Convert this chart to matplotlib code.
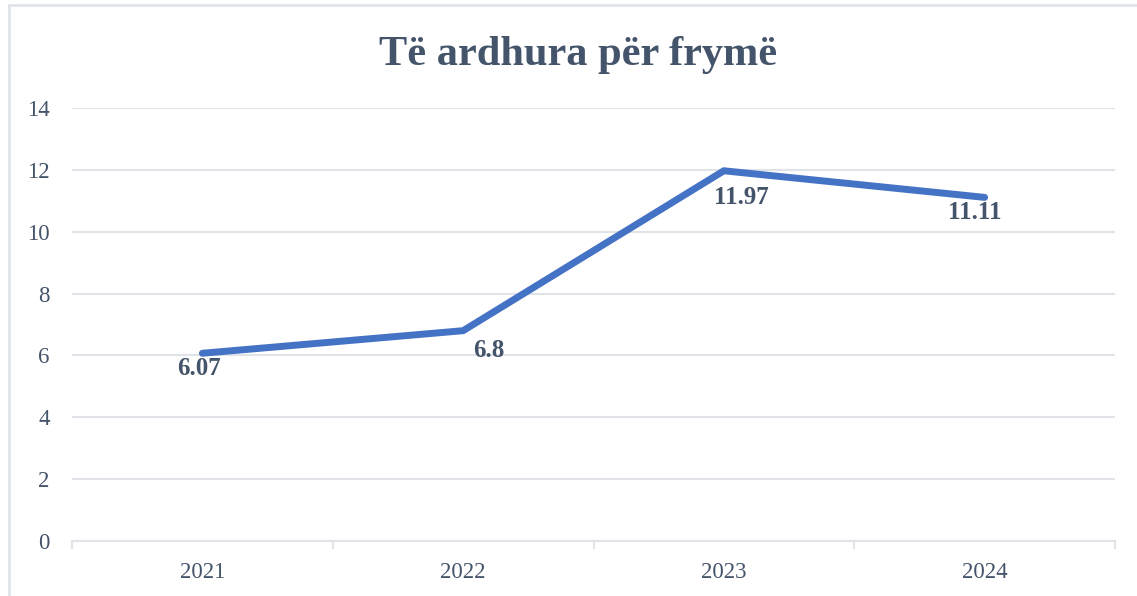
import matplotlib
matplotlib.use("Agg")
import matplotlib.pyplot as plt
from matplotlib.patches import Rectangle

# data
years = ["2021", "2022", "2023", "2024"]
values = [6.07, 6.8, 11.97, 11.11]
labels = ["6.07", "6.8", "11.97", "11.11"]
yticks = [0, 2, 4, 6, 8, 10, 12, 14]

text_col = "#44546A"
grid_col = "#E0E3E8"
line_col = "#4472C4"

plt.rcParams['font.family'] = ['Liberation Serif', 'DejaVu Serif']

W, H = 1137, 596
fig = plt.figure(figsize=(W / 100, H / 100), dpi=100)
ax = fig.add_axes([72 / W, 1 - 541 / H, (1115 - 72) / W, (541 - 108) / H])

# outer border of the chart box
fig.patches.append(Rectangle((9 / W, -0.1), 1.2, 1.1 - 5 / H, transform=fig.transFigure,
                             fill=False, edgecolor=grid_col, linewidth=2))

x = list(range(len(years)))
ax.plot(x, values, color=line_col, linewidth=5, solid_capstyle='round', solid_joinstyle='miter', zorder=3)

# label offsets in pixels (dx, dy)
offs = [(-3, -15), (26, -20), (17, -27), (-10, -15)]
for xi, v, lab, (dx, dy) in zip(x, values, labels, offs):
    ax.annotate(lab, (xi, v), xytext=(dx, dy), textcoords='offset pixels',
                ha='center', va='center', fontsize=18, fontweight='bold', color=text_col)

ax.set_xlim(-0.5, 3.5)
ax.set_ylim(0, 14)
ax.set_yticks(yticks)
ax.set_yticklabels([str(t) for t in yticks])
ax.set_xticks(x)
ax.set_xticklabels(years)
ax.set_xticks([-0.5, 0.5, 1.5, 2.5, 3.5], minor=True)

ax.grid(axis='y', color=grid_col, linewidth=1.5)
ax.set_axisbelow(True)
for s in ['top', 'right', 'left']:
    ax.spines[s].set_visible(False)
ax.spines['bottom'].set_color(grid_col)
ax.spines['bottom'].set_linewidth(1.5)

ax.tick_params(axis='y', length=0, pad=16, labelsize=16.5, labelcolor=text_col)
ax.tick_params(axis='x', which='major', length=0, pad=15, labelsize=16.5, labelcolor=text_col)
ax.tick_params(axis='x', which='minor', length=6, width=1.5, color=grid_col)

fig.text((378 + 778) / 2 / W, 1 - 55 / H, "Të ardhura për frymë", ha='center', va='center',
         fontsize=30.5, fontweight='bold', color=text_col)

fig.savefig("out.png", dpi=100)
